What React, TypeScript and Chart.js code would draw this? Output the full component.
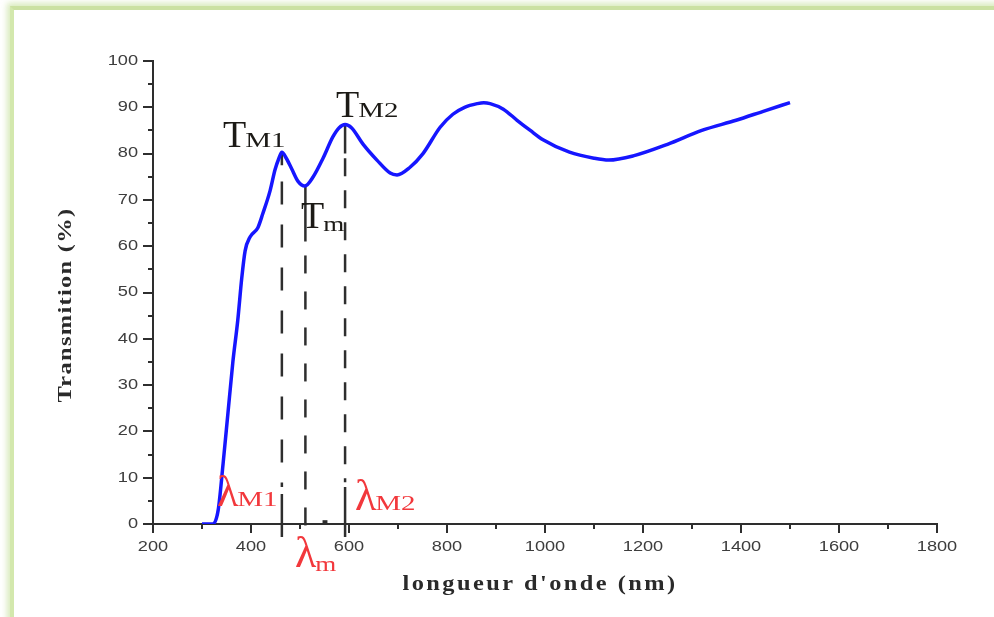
import React, { useEffect, useRef } from 'react';
import { Chart, registerables } from 'chart.js';

Chart.register(...registerables);

// ---- data ----
const WAVELENGTH = [300, 322, 333, 343, 353, 363, 373, 381, 388, 398, 414, 424, 439, 449, 457, 463, 472, 484, 496, 510, 527, 547, 567, 580, 592, 605, 629, 657, 684, 698, 724, 751, 786, 812, 836, 862, 875, 888, 915, 943, 970, 996, 1050, 1100, 1130, 1180, 1250, 1320, 1390, 1450, 1500];
const TRANSMISSION = [0, 0, 3, 13, 24, 35, 44, 53, 59, 62, 64, 67, 72, 76.5, 79, 80.3, 79, 76.5, 74, 73, 75, 79, 83.6, 85.6, 86.3, 85.6, 82, 78.6, 75.8, 75.4, 77, 80, 85.7, 88.5, 90, 90.8, 91, 90.8, 89.6, 87.2, 85, 83, 80.3, 79, 78.6, 79.5, 82, 85, 87.2, 89.3, 91];

const MARK_LAMBDA = [463, 511, 592];
const MARK_PEAK = [80.3, 73, 86.3];

const X_TICKS = [200, 400, 600, 800, 1000, 1200, 1400, 1600, 1800];
const X_MINOR = [300, 500, 700, 900, 1100, 1300, 1500, 1700];
const Y_TICKS = [0, 10, 20, 30, 40, 50, 60, 70, 80, 90, 100];
const Y_MINOR = [5, 15, 25, 35, 45, 55, 65, 75, 85, 95];

const X_TITLE = "longueur d'onde (nm)";
const Y_TITLE = 'Transmition (%)';

const LINE_DARK = '#2e2e2e';
const RED = '#f2383c';
const TXT = '#1c1a16';

function seg(x: number, y1: number, y2: number) {
  return [{ x, y: y1 }, { x, y: y2 }];
}

function stretched(ctx: CanvasRenderingContext2D, text: string, x: number, y: number, sx: number, align: CanvasTextAlign, base: CanvasTextBaseline) {
  ctx.save();
  ctx.translate(x, y);
  ctx.scale(sx, 1);
  ctx.textAlign = align;
  ctx.textBaseline = base;
  ctx.fillText(text, 0, 0);
  ctx.restore();
}

function subLabel(ctx: CanvasRenderingContext2D, main: string, sub: string, x: number, base: number, subBase: number, color: string, mainPx: number, subSx: number) {
  ctx.save();
  ctx.fillStyle = color;
  ctx.font = `${mainPx}px "Liberation Serif"`;
  ctx.textAlign = 'left';
  ctx.textBaseline = 'alphabetic';
  ctx.fillText(main, x, base);
  const w = ctx.measureText(main).width;
  ctx.font = '20px "Liberation Serif"';
  stretched(ctx, sub, x + w - 1, subBase, subSx, 'left', 'alphabetic');
  ctx.restore();
}

const decor = {
  id: 'decor',
  afterDraw(chart: any) {
    const ctx: CanvasRenderingContext2D = chart.ctx;
    const xs = chart.scales.x;
    const ys = chart.scales.y;
    const a = chart.chartArea;
    ctx.save();
    ctx.strokeStyle = LINE_DARK;
    ctx.lineWidth = 2;
    ctx.beginPath();
    for (const v of Y_TICKS) {
      const p = Math.round(ys.getPixelForValue(v));
      ctx.moveTo(a.left - 10, p);
      ctx.lineTo(a.left, p);
    }
    for (const v of Y_MINOR) {
      const p = Math.round(ys.getPixelForValue(v));
      ctx.moveTo(a.left - 5, p);
      ctx.lineTo(a.left, p);
    }
    for (const v of X_TICKS) {
      const p = Math.round(xs.getPixelForValue(v));
      ctx.moveTo(p, a.bottom);
      ctx.lineTo(p, a.bottom + 9);
    }
    for (const v of X_MINOR) {
      const p = Math.round(xs.getPixelForValue(v));
      ctx.moveTo(p, a.bottom);
      ctx.lineTo(p, a.bottom + 5);
    }
    ctx.stroke();

    // tick labels
    ctx.fillStyle = '#3d3d3d';
    ctx.font = '14px "Liberation Sans"';
    for (const v of Y_TICKS) {
      stretched(ctx, String(v), a.left - 15, ys.getPixelForValue(v), 1.3, 'right', 'middle');
    }
    for (const v of X_TICKS) {
      stretched(ctx, String(v), xs.getPixelForValue(v), a.bottom + 23, 1.3, 'center', 'middle');
    }

    // axis titles
    ctx.fillStyle = '#2a2a2a';
    ctx.font = 'bold 20px "Liberation Serif"';
    (ctx as any).letterSpacing = '2px';
    let w = ctx.measureText(X_TITLE).width;
    stretched(ctx, X_TITLE, 540, 590, 275 / w, 'center', 'alphabetic');
    (ctx as any).letterSpacing = '1px';
    ctx.font = 'bold 19px "Liberation Serif"';
    w = ctx.measureText(Y_TITLE).width;
    ctx.save();
    ctx.translate(66, 305);
    ctx.rotate(-Math.PI / 2);
    ctx.scale(195 / w, 1);
    ctx.textAlign = 'center';
    ctx.textBaseline = 'middle';
    ctx.fillText(Y_TITLE, 0, 0);
    ctx.restore();
    (ctx as any).letterSpacing = '0px';

    // annotations
    subLabel(ctx, 'T', 'M1', 223, 147, 147, TXT, 38, 1.45);
    subLabel(ctx, 'T', 'M2', 336, 117, 117, TXT, 38, 1.45);
    subLabel(ctx, 'T', 'm', 301, 228, 231, TXT, 38, 1.35);
    subLabel(ctx, 'λ', 'M1', 217, 506, 506, RED, 44, 1.45);
    subLabel(ctx, 'λ', 'M2', 355, 510, 510, RED, 44, 1.45);
    subLabel(ctx, 'λ', 'm', 295, 567, 571, RED, 44, 1.35);
    ctx.restore();
  },
};

export default function App() {
  const ref = useRef<HTMLCanvasElement | null>(null);
  useEffect(() => {
    if (!ref.current) return;
    const curve = WAVELENGTH.map((x, i) => ({ x, y: TRANSMISSION[i] }));
    const vline = (data: any[], dash: number[], width = 2.5) => ({
      data,
      borderColor: LINE_DARK,
      borderWidth: width,
      borderDash: dash,
      pointRadius: 0,
      clip: false as const,
      fill: false,
    });
    const chart = new Chart(ref.current, {
      type: 'line',
      data: {
        datasets: [
          {
            data: curve,
            borderColor: '#1616ff',
            borderWidth: 3.5,
            pointRadius: 0,
            cubicInterpolationMode: 'monotone',
            fill: false,
          } as any,
          vline(seg(MARK_LAMBDA[0], MARK_PEAK[0], 77.5), []),
          vline(seg(MARK_LAMBDA[0], 74, 8), [23, 20]),
          vline(seg(MARK_LAMBDA[0], 6.5, -2.8), []),
          vline(seg(MARK_LAMBDA[1], MARK_PEAK[1], 61), []),
          vline(seg(MARK_LAMBDA[1], 58, -1), [18, 18]),
          vline(seg(MARK_LAMBDA[2], MARK_PEAK[2], 80), []),
          vline(seg(MARK_LAMBDA[2], 79, 9), [18, 14]),
          vline(seg(MARK_LAMBDA[2], 8, -2.8), []),
          vline([{ x: 546, y: 0.5 }, { x: 556, y: 0.5 }], [], 3),
        ],
      },
      options: {
        responsive: false,
        animation: false,
        devicePixelRatio: 1,
        layout: { padding: { left: 0, right: 57, top: 61, bottom: 0 } },
        plugins: { legend: { display: false }, tooltip: { enabled: false } },
        scales: {
          x: {
            type: 'linear',
            min: 200,
            max: 1800,
            ticks: { display: false },
            grid: { display: false },
            border: { display: true, color: LINE_DARK, width: 2 },
            afterFit: (s: any) => { s.height = 93; },
          },
          y: {
            type: 'linear',
            min: 0,
            max: 100,
            ticks: { display: false },
            grid: { display: false },
            border: { display: true, color: LINE_DARK, width: 2 },
            afterFit: (s: any) => { s.width = 153; },
          },
        },
      } as any,
      plugins: [decor],
    });
    return () => chart.destroy();
  }, []);

  return (
    <div style={{ position: 'fixed', left: 0, top: 0, width: 994, height: 617, overflow: 'hidden', background: '#fff' }}>
      <div
        style={{
          position: 'absolute',
          left: 10,
          top: 6,
          width: 1200,
          height: 900,
          borderLeft: '4px solid #d3e8ad',
          borderTop: '4px solid #cbe1a2',
          boxShadow: '-2px -2px 6px 1px rgba(200,225,160,0.7)',
        }}
      />
      <canvas ref={ref} width={994} height={617} style={{ position: 'absolute', left: 0, top: 0, display: 'block' }} />
    </div>
  );
}
